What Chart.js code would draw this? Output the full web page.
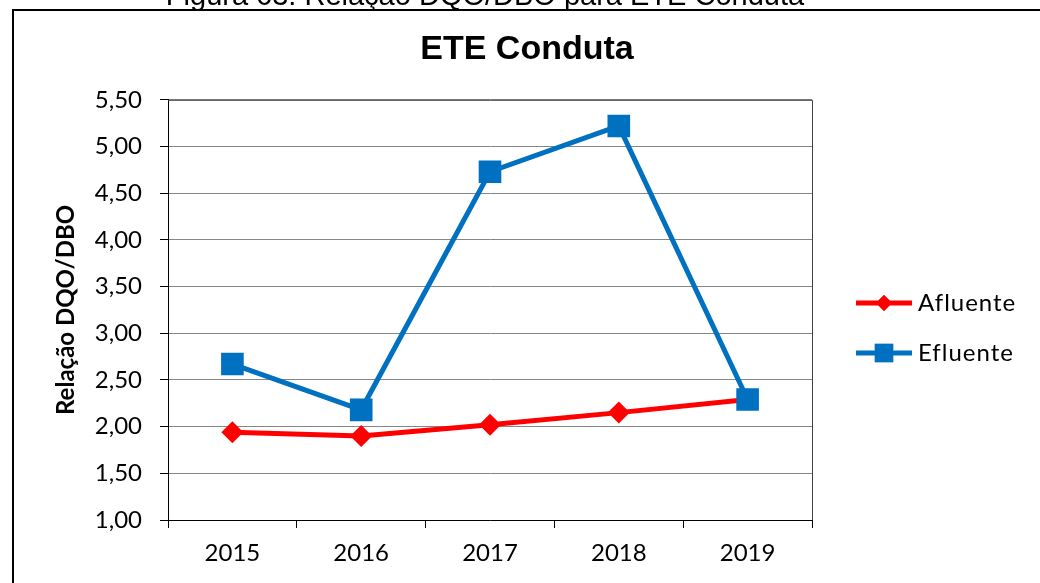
<!DOCTYPE html>
<html>
<head>
<meta charset="utf-8">
<script src="https://cdn.jsdelivr.net/npm/chart.js@4/dist/chart.umd.min.js"></script>
<style>
  body { margin: 0; background: #fff; }
  canvas { display: block; }
</style>
</head>
<body>
<canvas id="myChart" width="1040" height="583"></canvas>
<script>
// Relação DQO/DBO por ano
const anos = ['2015', '2016', '2017', '2018', '2019'];
const afluente = [1.94, 1.90, 2.02, 2.15, 2.29];
const efluente = [2.67, 2.18, 4.73, 5.22, 2.29];
const yTicks = [1.0, 1.5, 2.0, 2.5, 3.0, 3.5, 4.0, 4.5, 5.0, 5.5];

const tickFont = { family: 'Lato', size: 24 };

// frame, caption, plot border and the line+marker legend
const decorations = {
    id: 'decorations',
    beforeDraw(chart) {
        const ctx = chart.ctx;
        ctx.save();
        ctx.fillStyle = '#000';
        ctx.font = '29px "Liberation Sans"';
        ctx.textAlign = 'center';
        ctx.textBaseline = 'alphabetic';
        ctx.fillText('Figura 63: Relação DQO/DBO para ETE Conduta', 485, 5);
        ctx.strokeStyle = '#000';
        ctx.lineWidth = 2;
        ctx.strokeRect(13, 10, 1060, 600);
        ctx.restore();
    },
    afterDatasetsDraw(chart) {
        const ctx = chart.ctx;
        const a = chart.chartArea;
        ctx.save();
        ctx.strokeStyle = '#404040';
        ctx.lineWidth = 1;
        ctx.beginPath();
        ctx.moveTo(a.left, a.top + 0.5);
        ctx.lineTo(a.right + 0.5, a.top + 0.5);
        ctx.lineTo(a.right + 0.5, a.bottom);
        ctx.stroke();

        chart.data.datasets.forEach((ds, i) => {
            const y = 303 + i * 50;
            ctx.strokeStyle = ds.borderColor;
            ctx.lineWidth = 5;
            ctx.beginPath();
            ctx.moveTo(856, y);
            ctx.lineTo(912, y);
            ctx.stroke();
            ctx.fillStyle = ds.borderColor;
            Chart.helpers.drawPoint(ctx, { pointStyle: ds.pointStyle, radius: ds.legendRadius, rotation: 0 }, 884, y);
            ctx.fill();
            ctx.fillStyle = '#000';
            ctx.font = '24px Lato';
            ctx.letterSpacing = '1px';
            ctx.textAlign = 'left';
            ctx.textBaseline = 'middle';
            ctx.fillText(ds.label, 918, y);
            ctx.letterSpacing = '0px';
        });
        ctx.restore();
    }
};

new Chart(document.getElementById('myChart'), {
    type: 'line',
    data: {
        labels: anos,
        datasets: [{
            label: 'Afluente',
            data: afluente,
            borderColor: '#FF0000',
            backgroundColor: '#FF0000',
            borderWidth: 5,
            pointStyle: 'rectRot',
            pointRadius: 11,
            legendRadius: 8,
            pointBorderWidth: 0,
            tension: 0,
            order: 1
        }, {
            label: 'Efluente',
            data: efluente,
            borderColor: '#0070C0',
            backgroundColor: '#0070C0',
            borderWidth: 5,
            pointStyle: 'rect',
            pointRadius: 16,
            legendRadius: 13,
            pointBorderWidth: 0,
            tension: 0,
            order: 0
        }]
    },
    options: {
        responsive: false,
        animation: false,
        layout: { padding: { left: 14, right: 0, top: 0, bottom: 0 } },
        plugins: {
            legend: { display: false },
            tooltip: { enabled: false },
            title: {
                display: true,
                text: 'ETE Conduta',
                color: '#000',
                font: { family: 'Liberation Sans', size: 34, weight: 'bold' },
                padding: { top: 29, bottom: 30 }
            }
        },
        scales: {
            x: {
                offset: true,
                grid: {
                    offset: true,
                    drawOnChartArea: false,
                    tickLength: 8,
                    tickColor: '#000'
                },
                border: { color: '#000', width: 1 },
                ticks: { color: '#000', font: tickFont, padding: 11, maxRotation: 0 },
                afterFit(scale) { scale.height = 63; }
            },
            y: {
                min: 1,
                max: 5.5,
                afterBuildTicks(scale) { scale.ticks = yTicks.map(v => ({ value: v })); },
                grid: { color: '#868686', tickColor: '#000', tickLength: 8 },
                border: { color: '#000', width: 1 },
                ticks: {
                    color: '#000',
                    font: tickFont,
                    padding: 18,
                    callback: v => v.toFixed(2).replace('.', ',')
                },
                title: {
                    display: true,
                    text: 'Relação DQO/DBO',
                    color: '#000',
                    font: { family: 'Lato', size: 24, weight: 'bold' },
                    padding: { top: 38, bottom: 0 }
                },
                afterFit(scale) { scale.width = 154; }
            },
            // empty right-hand space that holds the legend
            legendSpace: {
                type: 'linear',
                position: 'right',
                display: true,
                grid: { display: false },
                ticks: { display: false },
                border: { display: false },
                afterFit(scale) { scale.width = 228; }
            }
        }
    },
    plugins: [decorations]
});
</script>
</body>
</html>
